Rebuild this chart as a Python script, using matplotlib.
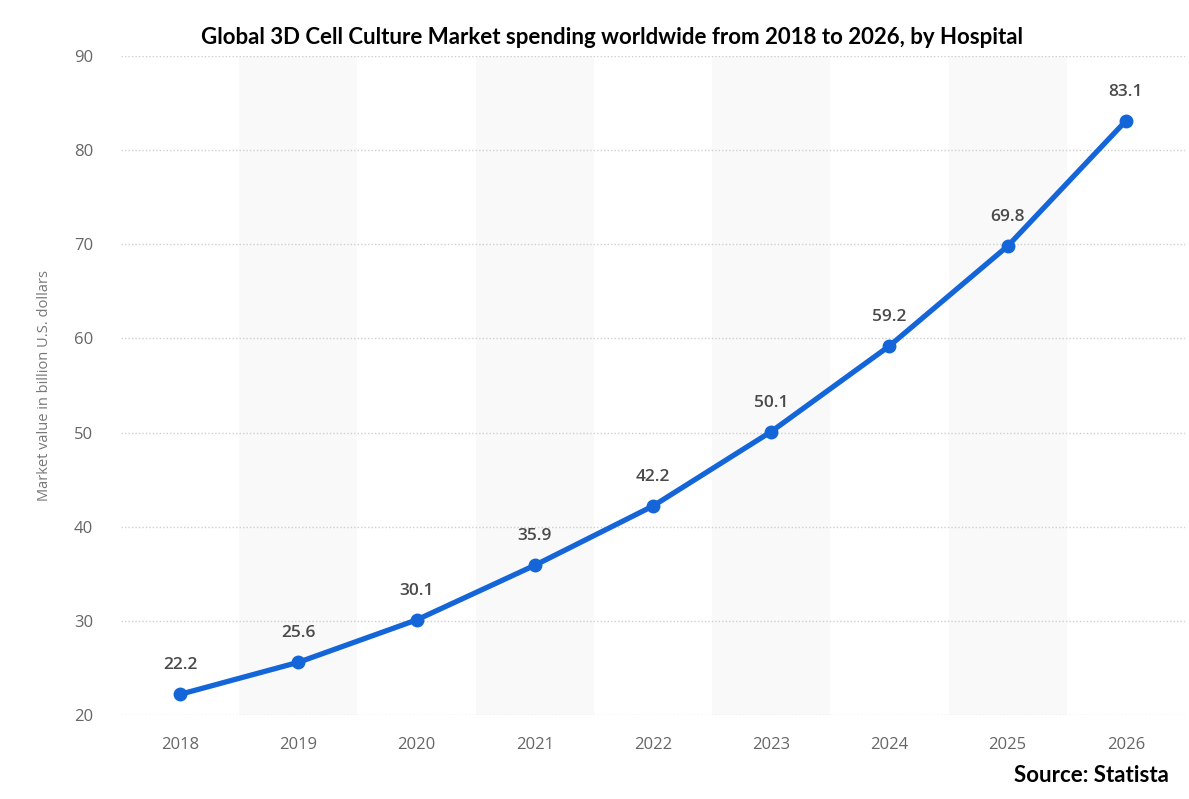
import matplotlib
matplotlib.use("Agg")
import matplotlib.pyplot as plt

years = ["2018", "2019", "2020", "2021", "2022", "2023", "2024", "2025", "2026"]
values = [22.2, 25.6, 30.1, 35.9, 42.2, 50.1, 59.2, 69.8, 83.1]
y_ticks = [20, 30, 40, 50, 60, 70, 80, 90]

plt.rcParams["font.family"] = ["Open Sans", "DejaVu Sans"]

fig = plt.figure(figsize=(11.89, 7.99), dpi=100)
ax = fig.add_axes([0.1018, 0.1051, 0.8948, 0.8249])

x = list(range(len(years)))
for i in x:
    if i % 2 == 1:
        ax.axvspan(i - 0.5, i + 0.5, color="#f9f9f9", zorder=0, lw=0)

ax.plot(x, values, color="#1466d8", linewidth=3.8, marker="o", markersize=9,
        solid_capstyle="round", zorder=3)
for xi, v in zip(x, values):
    ax.annotate(f"{v:.1f}", (xi, v), xytext=(0, 15), textcoords="offset points",
                ha="center", va="bottom", fontsize=12.5, fontweight="semibold",
                color="#4a4a4a")

ax.set_xlim(-0.5, len(years) - 0.5)
ax.set_ylim(20, 90)
ax.set_xticks(x)
ax.set_xticklabels(years)
ax.set_yticks(y_ticks)
ax.tick_params(axis="both", length=0, labelsize=12, colors="#666666")
ax.tick_params(axis="x", pad=16)
ax.tick_params(axis="y", pad=20)
ax.grid(axis="y", color="#cfcfcf", linestyle=(0, (1, 1.5)), linewidth=1)
ax.set_axisbelow(True)
for s in ax.spines.values():
    s.set_visible(False)
ax.set_ylabel("Market value in billion U.S. dollars", fontsize=10.5, color="#777777", labelpad=16)

fig.text(0.515, 0.953, "Global 3D Cell Culture Market spending worldwide from 2018 to 2026, by Hospital",
         ha="center", va="center", fontsize=16, fontweight="bold", color="black",
         family=["Lato", "DejaVu Sans"])
fig.text(0.983, 0.03, "Source: Statista", ha="right", va="center", fontsize=16,
         fontweight="bold", color="black", family=["Lato", "DejaVu Sans"])

fig.savefig("out.png", dpi=100)
